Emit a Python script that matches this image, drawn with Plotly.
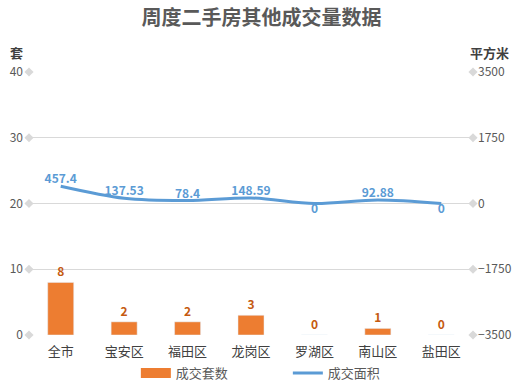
import plotly.graph_objects as go

categories = ["全市", "宝安区", "福田区", "龙岗区", "罗湖区", "南山区", "盐田区"]
units = [8, 2, 2, 3, 0, 1, 0]
area = [457.4, 137.53, 78.4, 148.59, 0, 92.88, 0]
area_labels = ["457.4", "137.53", "78.4", "148.59", "0", "92.88", "0"]
left_ticks = [0, 10, 20, 30, 40]
right_ticks = [-3500, -1750, 0, 1750, 3500]

FONT = "Noto Sans CJK SC"
BAR_COLOR = "#ED7D31"
LINE_COLOR = "#5B9BD5"
fig = go.Figure()

fig.add_trace(go.Bar(
    x=list(range(len(categories))), y=units, name="成交套数",
    marker_color=BAR_COLOR, width=0.41, showlegend=False, legendgroup="bar",
    text=[str(v) for v in units], textposition="outside",
    textfont=dict(color="#C55A11", size=12, family=FONT, weight="bold"),
    cliponaxis=False,
))
# legend entry for the bars drawn as a wide rectangle
fig.add_trace(go.Scatter(
    x=[None], y=[None], name="成交套数", mode="lines", legendgroup="bar",
    line=dict(color=BAR_COLOR, width=10), hoverinfo="skip",
))

fig.add_trace(go.Scatter(
    x=list(range(len(categories))), y=area, name="成交面积", yaxis="y2",
    mode="lines+text", line=dict(color=LINE_COLOR, width=3, shape="spline", smoothing=0.9),
    text=area_labels,
    textposition=["top center" if v > 0 else "bottom center" for v in area],
    textfont=dict(color=LINE_COLOR, size=12, family=FONT, weight="bold"),
    cliponaxis=False,
))

# diamond end markers on gridlines
n = len(categories)
fig.add_trace(go.Scatter(
    x=[-0.5] * len(left_ticks) + [n - 0.5] * len(left_ticks),
    y=left_ticks + left_ticks, mode="markers",
    marker=dict(symbol="diamond", size=7, color="#D9D9D9"),
    showlegend=False, hoverinfo="skip", cliponaxis=False,
))

fig.update_layout(
    width=523, height=385,
    margin=dict(l=29, r=50, t=72, b=50, autoexpand=False),
    plot_bgcolor="white", paper_bgcolor="white",
    font=dict(family=FONT, color="#595959"),
    title=dict(text="<b>周度二手房其他成交量数据</b>", x=0.5, xanchor="center", y=0.972,
               font=dict(size=20, color="#595959", family=FONT)),
    xaxis=dict(range=[-0.5, n - 0.5], tickvals=list(range(n)), ticktext=categories,
               showgrid=False, zeroline=False, showline=False, automargin=False,
               tickfont=dict(size=13, color="#404040"), ticklabelstandoff=7),
    yaxis=dict(range=[0, 40], tickvals=left_ticks, showgrid=True, gridcolor="#D9D9D9",
               gridwidth=1, zeroline=False, automargin=False,
               tickfont=dict(size=12, color="#595959"), ticklabelstandoff=5),
    yaxis2=dict(range=[-3500, 3500], tickvals=right_ticks, overlaying="y", side="right",
                showgrid=False, zeroline=False, automargin=False,
                tickfont=dict(size=12, color="#595959"), ticklabelstandoff=4),
    legend=dict(orientation="h", x=0.583, xanchor="center", y=-0.145, yanchor="middle",
                entrywidth=107, entrywidthmode="pixels",
                font=dict(size=13, color="#595959")),
    annotations=[
        dict(text="<b>套</b>", xref="paper", yref="paper", x=-0.029, y=1.076, xanchor="center",
             yanchor="middle", showarrow=False, font=dict(size=13, color="#404040")),
        dict(text="<b>平方米</b>", xref="paper", yref="paper", x=1.038, y=1.076, xanchor="center",
             yanchor="middle", showarrow=False, font=dict(size=13, color="#404040")),
    ],
)

fig.write_html("out.html", config={"displayModeBar": False},
               post_script="document.body.style.margin='0';")
